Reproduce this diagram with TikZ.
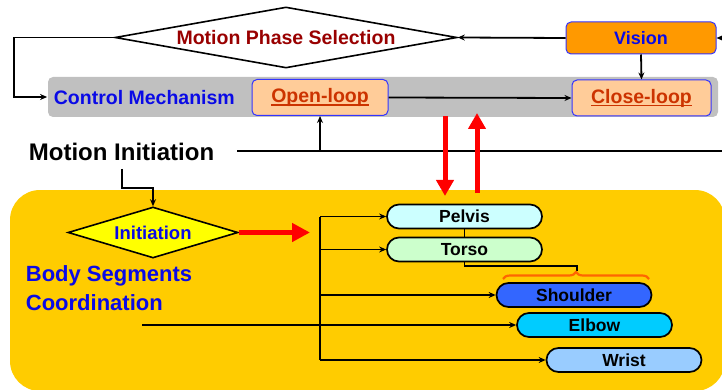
\documentclass[tikz,border=0pt]{standalone}
\usepackage{fontspec}
\setmainfont{Liberation Sans}
\usetikzlibrary{shapes.geometric,shapes.misc,arrows.meta,decorations.pathreplacing}
\definecolor{mpsred}{HTML}{990000}
\definecolor{tblue}{HTML}{0A0AE6}
\definecolor{visorange}{HTML}{FF9900}
\definecolor{boxblue}{HTML}{3333FF}
\definecolor{loopfill}{HTML}{FFCC99}
\definecolor{looptext}{HTML}{CC3300}
\definecolor{bandgray}{HTML}{C0C0C0}
\definecolor{areayellow}{HTML}{FFCC00}
\definecolor{initfill}{HTML}{FFFF00}
\definecolor{pelvisc}{HTML}{CCFFFF}
\definecolor{torsoc}{HTML}{CCFFCC}
\definecolor{shoulderc}{HTML}{3366FF}
\definecolor{elbowc}{HTML}{00CCFF}
\definecolor{wristc}{HTML}{99CCFF}
\definecolor{bracec}{HTML}{FF6600}
\newcommand\myul[1]{\setbox0\hbox{#1}\rlap{\rule[-3pt]{\wd0}{1.4pt}}\box0}
\newcommand\fs[1]{\fontsize{#1}{#1}\selectfont\bfseries}
\begin{document}
\begin{tikzpicture}[x=1pt,y=-1pt,
  line width=1.8pt,
  >={Stealth[length=7pt,width=6pt]},
  diam/.style={diamond, draw=black, line width=1.6pt, inner sep=0pt},
  loopbox/.style={draw=boxblue, line width=1pt, fill=loopfill, rounded corners=5pt,
     minimum height=36pt, inner sep=0pt, text=looptext, font=\fs{19.5}},
  seg/.style={rounded rectangle, draw=black, line width=1.7pt, minimum width=155pt,
     minimum height=24pt, inner sep=0pt, font=\fs{17.5}},
  redarrow/.style={draw=red, line width=5pt, -{Triangle[length=16pt,width=17pt]}},
  lbl/.style={inner sep=0pt, anchor=west}
]
\useasboundingbox (0,0) rectangle (722,390);
\clip (0,0) rectangle (722,390);
% backgrounds
\fill[areayellow, rounded corners=30pt] (10,190) rectangle (725,391);
\node[fill=bandgray, rounded corners=5pt, minimum width=670pt, minimum height=40pt, inner sep=0pt] (band) at (383,97) {};
% top part
\node[diam, fill=white, minimum width=342pt, minimum height=61pt, aspect=5.6, text=mpsred, font=\fs{19.5}] (mps) at (286,37.5) {Motion Phase Selection};
\node[draw=boxblue, line width=1pt, fill=visorange, rounded corners=5pt, minimum width=150pt, minimum height=32pt, inner sep=0pt, text=tblue, font=\fs{18}] (vision) at (641,38) {Vision};
\node[lbl, text=tblue, font=\fs{19.5}] (cm) at (53,98) {Control Mechanism};
\node[loopbox, minimum width=136pt] (open) at (320,97.5) {\myul{Open-loop}};
\node[loopbox, minimum width=139pt] (close) at (641.5,98) {\myul{Close-loop}};
\node[lbl, font=\fs{24}] (mi) at (28,152) {Motion Initiation};
\coordinate (vin) at (722,38);
\draw[->] (vin) -- (vision.east);
\draw[->] (vision.west) -- (mps.east);
\draw[->] (vision.south) -- (close.north);
\draw[->] (mps.west) -- ++(-100,0) |- (band.west);
\draw[->] (open.east) -- (close.west);
\coordinate (mistart) at (237,151);
\coordinate (miend) at (722,151);
\coordinate (mij) at (320,151);
\draw (mistart) -- (miend);
\draw[->] (mij) -- (open.south);
% red vertical arrows
\coordinate (rd1) at (445,116);
\coordinate (rd2) at (445,196);
\coordinate (ru1) at (477,193);
\coordinate (ru2) at (477,113);
\draw[redarrow] (rd1) -- (rd2);
\draw[redarrow] (ru1) -- (ru2);
% lower part
\node[diam, fill=initfill, minimum width=170pt, minimum height=51pt, aspect=3.3, text=tblue, font=\fs{18.5}] (init) at (153,232.5) {Initiation};
\node[lbl, text=tblue, font=\fs{22}, align=left, anchor=north west] (bsc) at (25,265) {Body Segments\\[7pt]Coordination};
\coordinate (mis) at (122,169);
\draw[->] (mis) -- (122,188) -| (init.north);
\coordinate (rh) at (310,232.5);
\draw[redarrow, -{Triangle[length=18pt,width=18pt]}] (init.east) -- (rh);
\node[seg, fill=pelvisc] (pelvis) at (464.5,216.5) {Pelvis};
\node[seg, fill=torsoc] (torso) at (464.5,249.5) {Torso};
\node[seg, fill=shoulderc] (shoulder) at (574,295) {Shoulder};
\node[seg, fill=elbowc] (elbow) at (594.5,325) {Elbow};
\node[seg, fill=wristc] (wrist) at (624,360) {Wrist};
\coordinate (t1) at (320,216.5);
\coordinate (t5) at (320,360);
\coordinate (eb) at (142,325);
\draw (t1) -- (t5);
\draw[->] (t1) -- (pelvis.west);
\draw[->] (torso.west -| t1) -- (torso.west);
\draw[->] (shoulder.west -| t1) -- (shoulder.west);
\draw[->] (eb) -- (elbow.west);
\draw[->] (t5) -- (wrist.west);
\draw (pelvis.south) -- (torso.north);
\coordinate (b1) at (503,279);
\coordinate (b2) at (649,279);
\coordinate (bt) at (577,271);
\draw (torso.south) -- ++(0,3.5) -| (bt);
\draw[bracec, line width=2.2pt, decorate, decoration={brace, amplitude=7pt}] (b1) -- (b2);
\end{tikzpicture}
\end{document}
